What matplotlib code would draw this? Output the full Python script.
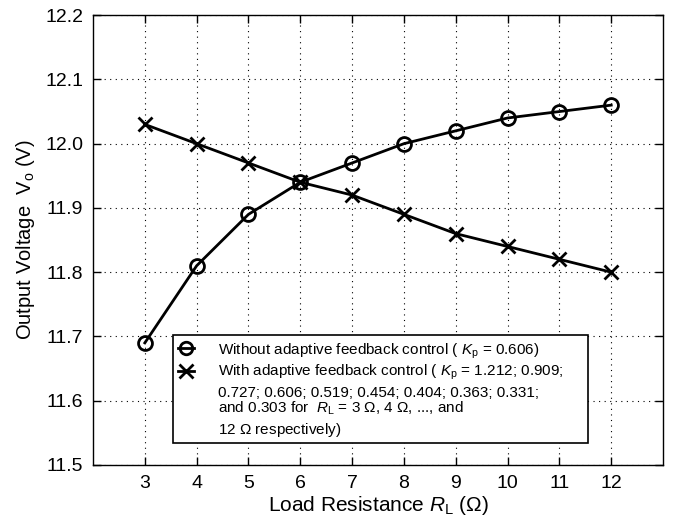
import matplotlib
matplotlib.use("Agg")
import matplotlib.pyplot as plt
from matplotlib.lines import Line2D
from matplotlib.patches import Rectangle

plt.rcParams['font.family'] = ['Liberation Sans', 'DejaVu Sans']
plt.rcParams['mathtext.fontset'] = 'custom'
plt.rcParams['mathtext.rm'] = 'Liberation Sans'
plt.rcParams['mathtext.it'] = 'Liberation Sans:italic'

load_resistance = [3, 4, 5, 6, 7, 8, 9, 10, 11, 12]
v_without = [11.69, 11.81, 11.89, 11.94, 11.97, 12.00, 12.02, 12.04, 12.05, 12.06]
v_with = [12.03, 12.00, 11.97, 11.94, 11.92, 11.89, 11.86, 11.84, 11.82, 11.80]
y_ticks = [11.5, 11.6, 11.7, 11.8, 11.9, 12.0, 12.1, 12.2]

legend_lines = [
    r"Without adaptive feedback control ( $K_\mathrm{p}$ = 0.606)",
    r"With adaptive feedback control ( $K_\mathrm{p}$ = 1.212; 0.909;",
    "0.727; 0.606; 0.519; 0.454; 0.404; 0.363; 0.331;",
    r"and 0.303 for  $R_\mathrm{L}$ = 3 $\Omega$, 4 $\Omega$, ..., and",
    r"12 $\Omega$ respectively)",
]

fig = plt.figure(figsize=(6.73, 5.23), dpi=100)
ax = fig.add_axes([0.1382, 0.111, 0.847, 0.860])

ax.plot(load_resistance, v_without, color='black', lw=2, marker='o', ms=10,
        mfc='none', mew=2)
ax.plot(load_resistance, v_with, color='black', lw=2, marker='x', ms=10, mew=2)

ax.set_xlim(2, 13)
ax.set_ylim(11.5, 12.2)
ax.set_xticks(load_resistance)
ax.set_yticks(y_ticks)
ax.set_yticklabels([f"{v:.1f}" for v in y_ticks])
ax.tick_params(direction='in', top=True, right=True, labelsize=14, length=6,
               width=1, pad=7)
ax.grid(True, linestyle=(0, (1, 4)), color='black', lw=0.8)
for s in ax.spines.values():
    s.set_linewidth(1.0)

ax.set_xlabel(r"Load Resistance $R_\mathrm{L}$ ($\Omega$)", fontsize=15, labelpad=2)
ax.set_ylabel(r"Output Voltage  $\mathrm{V}_\mathrm{o}$ (V)", fontsize=14.5, labelpad=6)

# legend drawn as a framed box
ax.add_patch(Rectangle((0.1406, 0.049), 0.727, 0.240, transform=ax.transAxes,
                       facecolor='white', edgecolor='black', lw=1.2, zorder=5,
                       clip_on=False))
ax.add_line(Line2D([0.1494, 0.1775], [0.26, 0.26], transform=ax.transAxes,
                   color='black', lw=2, zorder=6))
ax.add_line(Line2D([0.1634], [0.26], transform=ax.transAxes, color='black',
                   marker='o', ms=9, mfc='none', mew=2, zorder=6))
ax.add_line(Line2D([0.1494, 0.1775], [0.209, 0.209], transform=ax.transAxes,
                   color='black', lw=2, zorder=6))
ax.add_line(Line2D([0.1634], [0.209], transform=ax.transAxes, color='black',
                   marker='x', ms=10, mew=2, zorder=6))
baselines = [0.2444, 0.1978, 0.1511, 0.1156, 0.0689]
for txt, yb in zip(legend_lines, baselines):
    ax.text(0.2197, yb, txt, transform=ax.transAxes, fontsize=11,
            va='baseline', ha='left', zorder=7)

fig.savefig("out.png", dpi=100)
